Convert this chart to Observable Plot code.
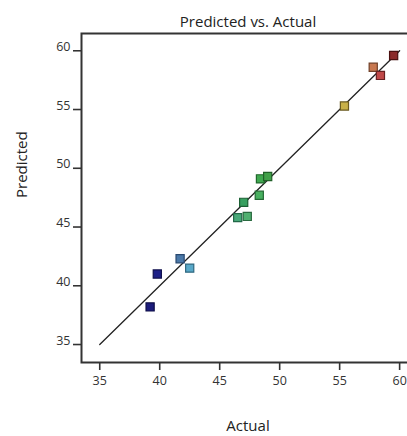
<!DOCTYPE html>
<html><head><meta charset="utf-8">
<script src="https://cdn.jsdelivr.net/npm/d3@7"></script>
<script src="https://cdn.jsdelivr.net/npm/@observablehq/plot@0.6"></script>
<style>
html,body{margin:0;padding:0;background:#fff;overflow:hidden;width:407px;height:436px;}
svg{display:block;max-width:none !important;}
</style></head>
<body><div id="chart"></div>
<script>
const actual    = [39.2, 39.8, 41.7, 42.5, 46.5, 47.3, 47.0, 48.3, 48.4, 49.0, 55.4, 57.8, 58.4, 59.5];
const predicted = [38.2, 41.0, 42.3, 41.5, 45.8, 45.9, 47.1, 47.7, 49.1, 49.3, 55.3, 58.6, 57.9, 59.6];
const fills     = ["#1c1c7c","#1e2088","#4a78a8","#58a8c8","#48a878","#50b070","#38a060","#48b060","#40a850","#40a048","#c8b048","#c87850","#c04848","#8a2a2a"];
const strokes   = ["#0e0e48","#10104e","#284870","#306880","#226848","#2a6a40","#1c6034","#246a34","#20682c","#206028","#6a5a20","#704028","#682020","#4a1010"];
const xTicks = [35, 40, 45, 50, 55, 60];
const yTicks = [35, 40, 45, 50, 55, 60];
const fitLine = [{v: 35}, {v: 60}];
const title = "Predicted vs. Actual";
const xLabel = "Actual";
const yLabel = "Predicted";

const pts = actual.map((a, i) => ({a, p: predicted[i], f: fills[i], s: strokes[i]}));
const font = "'Open Sans', 'Noto Sans', sans-serif";

const chart = Plot.plot({
  width: 414, height: 436,
  marginLeft: 81, marginRight: 0, marginTop: 33, marginBottom: 74,
  style: {fontFamily: font, fontSize: "12.5px", color: "#333", background: "#fff", maxWidth: "none"},
  x: {domain: [33.48, 61.24], label: null},
  y: {domain: [33.47, 61.47], label: null},
  marks: [
    Plot.axisX({ticks: xTicks, tickSize: 8, tickPadding: 6, strokeWidth: 1.6, stroke: "#333", fill: "#333", fontSize: 12.5}),
    Plot.axisY({ticks: yTicks, tickSize: 8, text: null, strokeWidth: 1.6, stroke: "#333"}),
    Plot.axisY({ticks: yTicks, tickSize: 0, tickPadding: 11, fill: "#333", fontSize: 12.5, dy: -4}),
    Plot.line(fitLine, {x: "v", y: "v", stroke: "#222", strokeWidth: 1.3}),
    Plot.dot(pts, {x: "a", y: "p", symbol: "square", r: 4.6, fill: "f", stroke: "s", strokeWidth: 1.2}),
    Plot.frame({stroke: "#333", strokeWidth: 2}),
    Plot.text([title], {frameAnchor: "top", dy: -17, fontSize: 15, fill: "#222", fontFamily: font}),
    Plot.text([xLabel], {frameAnchor: "bottom", dy: 68, fontSize: 15, fill: "#222", fontFamily: font}),
    Plot.text([yLabel], {frameAnchor: "left", dx: -59, rotate: -90, fontSize: 15, fill: "#222", fontFamily: font})
  ]
});
document.getElementById("chart").appendChild(chart);
</script>
</body></html>
